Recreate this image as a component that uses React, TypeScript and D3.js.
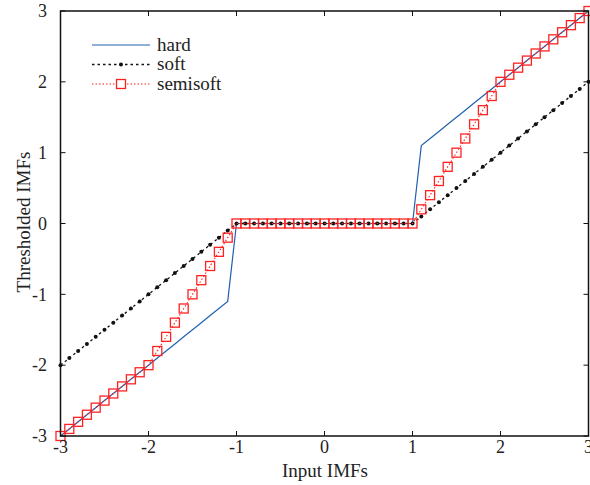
import * as d3 from "d3";

// sample grid and thresholded outputs
const inputX = [
  -3.0, -2.9, -2.8, -2.7, -2.6, -2.5, -2.4, -2.3, -2.2, -2.1,
  -2.0, -1.9, -1.8, -1.7, -1.6, -1.5, -1.4, -1.3, -1.2, -1.1,
  -1.0, -0.9, -0.8, -0.7, -0.6, -0.5, -0.4, -0.3, -0.2, -0.1,
  0.0, 0.1, 0.2, 0.3, 0.4, 0.5, 0.6, 0.7, 0.8, 0.9, 1.0,
  1.1, 1.2, 1.3, 1.4, 1.5, 1.6, 1.7, 1.8, 1.9, 2.0,
  2.1, 2.2, 2.3, 2.4, 2.5, 2.6, 2.7, 2.8, 2.9, 3.0,
];

const hard = [
  -3.0, -2.9, -2.8, -2.7, -2.6, -2.5, -2.4, -2.3, -2.2, -2.1,
  -2.0, -1.9, -1.8, -1.7, -1.6, -1.5, -1.4, -1.3, -1.2, -1.1,
  0, 0, 0, 0, 0, 0, 0, 0, 0, 0,
  0, 0, 0, 0, 0, 0, 0, 0, 0, 0, 0,
  1.1, 1.2, 1.3, 1.4, 1.5, 1.6, 1.7, 1.8, 1.9, 2.0,
  2.1, 2.2, 2.3, 2.4, 2.5, 2.6, 2.7, 2.8, 2.9, 3.0,
];

const soft = [
  -2.0, -1.9, -1.8, -1.7, -1.6, -1.5, -1.4, -1.3, -1.2, -1.1,
  -1.0, -0.9, -0.8, -0.7, -0.6, -0.5, -0.4, -0.3, -0.2, -0.1,
  0, 0, 0, 0, 0, 0, 0, 0, 0, 0,
  0, 0, 0, 0, 0, 0, 0, 0, 0, 0, 0,
  0.1, 0.2, 0.3, 0.4, 0.5, 0.6, 0.7, 0.8, 0.9, 1.0,
  1.1, 1.2, 1.3, 1.4, 1.5, 1.6, 1.7, 1.8, 1.9, 2.0,
];

const semisoft = [
  -3.0, -2.9, -2.8, -2.7, -2.6, -2.5, -2.4, -2.3, -2.2, -2.1,
  -2.0, -1.8, -1.6, -1.4, -1.2, -1.0, -0.8, -0.6, -0.4, -0.2,
  0, 0, 0, 0, 0, 0, 0, 0, 0, 0,
  0, 0, 0, 0, 0, 0, 0, 0, 0, 0, 0,
  0.2, 0.4, 0.6, 0.8, 1.0, 1.2, 1.4, 1.6, 1.8, 2.0,
  2.1, 2.2, 2.3, 2.4, 2.5, 2.6, 2.7, 2.8, 2.9, 3.0,
];

const xTicks = [-3, -2, -1, 0, 1, 2, 3];
const yTicks = [-3, -2, -1, 0, 1, 2, 3];
const legendLabels = ["hard", "soft", "semisoft"];

const W = 590;
const H = 485;
const m = { left: 60.5, right: 1.5, top: 11, bottom: 49 };
const font = "'Liberation Serif', 'Times New Roman', serif";
const BLUE = "#2160b0";
const RED = "#ff2222";

export default function App() {
  const x = d3.scaleLinear().domain([-3, 3]).range([m.left, W - m.right]);
  const y = d3.scaleLinear().domain([-3, 3]).range([H - m.bottom, m.top]);

  const pts = (ys: number[]) => inputX.map((v, i) => [v, ys[i]] as [number, number]);
  const line = d3
    .line<[number, number]>()
    .x((d) => x(d[0]))
    .y((d) => y(d[1]));

  const x0 = m.left;
  const x1 = W - m.right;
  const y0 = H - m.bottom;
  const y1 = m.top;
  const tl = 5;
  const sq = 9;

  return (
    <svg
      width={W}
      height={H}
      style={{ position: "absolute", left: 0, top: 0, background: "#fff" }}
      fontFamily={font}
    >
      {/* series */}
      <path d={line(pts(hard)) ?? ""} fill="none" stroke={BLUE} strokeWidth={1.2} />
      <path
        d={line(pts(soft)) ?? ""}
        fill="none"
        stroke="#111"
        strokeWidth={1.3}
        strokeDasharray="2.5,3"
      />
      {pts(soft).map((d, i) => (
        <circle key={"s" + i} cx={x(d[0])} cy={y(d[1])} r={2} fill="#111" />
      ))}
      <path
        d={line(pts(semisoft)) ?? ""}
        fill="none"
        stroke={RED}
        strokeWidth={1.1}
        strokeDasharray="1.5,2"
      />
      {pts(semisoft).map((d, i) => (
        <rect
          key={"q" + i}
          x={x(d[0]) - sq / 2}
          y={y(d[1]) - sq / 2}
          width={sq}
          height={sq}
          fill="none"
          stroke={RED}
          strokeWidth={1.3}
        />
      ))}

      {/* frame and ticks */}
      <rect x={x0} y={y1} width={x1 - x0} height={y0 - y1} fill="none" stroke="#111" strokeWidth={1.5} />
      {xTicks.map((t) => (
        <g key={"xt" + t}>
          <line x1={x(t)} x2={x(t)} y1={y0} y2={y0 - tl} stroke="#111" />
          <line x1={x(t)} x2={x(t)} y1={y1} y2={y1 + tl} stroke="#111" />
          <text x={x(t)} y={453} textAnchor="middle" fontSize={18} fill="#222">
            {t}
          </text>
        </g>
      ))}
      {yTicks.map((t) => (
        <g key={"yt" + t}>
          <line x1={x0} x2={x0 + tl} y1={y(t)} y2={y(t)} stroke="#111" />
          <line x1={x1} x2={x1 - tl} y1={y(t)} y2={y(t)} stroke="#111" />
          <text x={47} y={y(t)} dy="0.35em" textAnchor="end" fontSize={18} fill="#222">
            {t}
          </text>
        </g>
      ))}

      {/* axis titles */}
      <text x={325} y={477} textAnchor="middle" fontSize={19} fill="#222">
        Input IMFs
      </text>
      <text
        transform={`translate(30,222) rotate(-90)`}
        textAnchor="middle"
        fontSize={19}
        fill="#222"
      >
        Thresholded IMFs
      </text>

      {/* legend */}
      {legendLabels.map((lab, i) => {
        const ly = 45 + i * 19.5;
        return (
          <g key={lab}>
            {i === 0 && <line x1={92} x2={150} y1={ly} y2={ly} stroke={BLUE} strokeWidth={1.2} />}
            {i === 1 && (
              <>
                <line x1={92} x2={150} y1={ly} y2={ly} stroke="#111" strokeWidth={1.3} strokeDasharray="2.5,3" />
                <circle cx={121} cy={ly} r={2} fill="#111" />
              </>
            )}
            {i === 2 && (
              <>
                <line x1={92} x2={150} y1={ly} y2={ly} stroke={RED} strokeWidth={1.1} strokeDasharray="1.5,2" />
                <rect x={121 - sq / 2} y={ly - sq / 2} width={sq} height={sq} fill="#fff" stroke={RED} strokeWidth={1.3} />
              </>
            )}
            <text x={157} y={ly} dy="0.3em" fontSize={19} fill="#222">
              {lab}
            </text>
          </g>
        );
      })}
    </svg>
  );
}
